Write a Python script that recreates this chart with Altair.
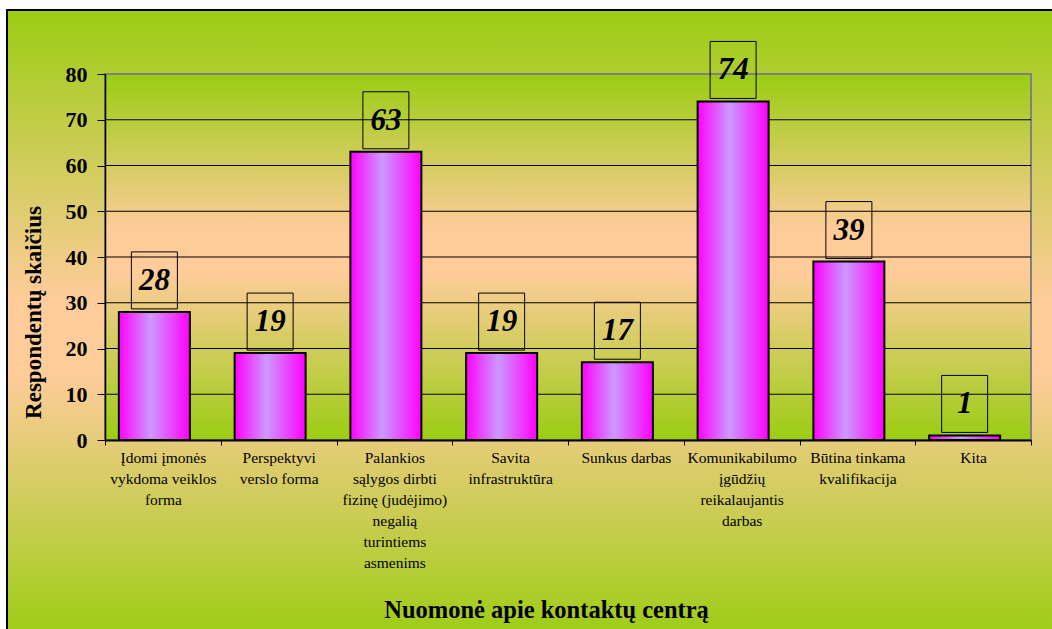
import altair as alt
import pandas as pd

categories = [
    "Įdomi įmonės\nvykdoma veiklos\nforma",
    "Perspektyvi\nverslo forma",
    "Palankios\nsąlygos dirbti\nfizinę (judėjimo)\nnegalią\nturintiems\nasmenims",
    "Savita\ninfrastruktūra",
    "Sunkus darbas",
    "Komunikabilumo\nįgūdžių\nreikalaujantis\ndarbas",
    "Būtina tinkama\nkvalifikacija",
    "Kita",
]
values = [28, 19, 63, 19, 17, 74, 39, 1]
y_ticks = [0, 10, 20, 30, 40, 50, 60, 70, 80]
grid_values = [10, 20, 30, 40, 50, 60, 70]

GREEN = "#9ACD12"
PEACH = "#FDCC98"
FONT = "Liberation Serif, Times New Roman, Tinos, DejaVu Serif, serif"
W, H = 926, 366

df = pd.DataFrame({"category": categories, "value": values})
grid_df = pd.DataFrame({"v": grid_values})

outer_grad = {
    "gradient": "linear", "x1": 0, "x2": 0, "y1": 0, "y2": 1,
    "stops": [
        {"offset": 0, "color": GREEN},
        {"offset": 0.45, "color": PEACH},
        {"offset": 0.58, "color": PEACH},
        {"offset": 1, "color": GREEN},
    ],
}
plot_grad = {
    "gradient": "linear", "x1": 0, "x2": 0, "y1": 0, "y2": 1,
    "stops": [
        {"offset": 0, "color": GREEN},
        {"offset": 0.42, "color": PEACH},
        {"offset": 0.55, "color": PEACH},
        {"offset": 1, "color": GREEN},
    ],
}
bar_grad = {
    "gradient": "linear", "x1": 0, "x2": 1, "y1": 0, "y2": 0,
    "stops": [
        {"offset": 0, "color": "#FF00FF"},
        {"offset": 0.45, "color": "#CC99FF"},
        {"offset": 1, "color": "#FF00FF"},
    ],
}

x_axis = alt.Axis(
    labelExpr="split(datum.label, '\\n')",
    labelAngle=0,
    labelFont=FONT,
    labelFontSize=15.5,
    labelLineHeight=21,
    labelColor="black",
    labelPadding=5,
    labelLimit=200,
    tickBand="extent",
    tickSize=5,
    tickColor="black",
    domainColor="black",
    domainWidth=2,
    title="Nuomonė apie kontaktų centrą",
    titleFont=FONT,
    titleFontSize=24.5,
    titleFontWeight="bold",
    titleColor="black",
    titleX=441,
    titleY=177,
    titleAlign="center",
    titleBaseline="alphabetic",
    grid=False,
    zindex=1,
)
y_axis = alt.Axis(
    values=y_ticks,
    labelFont=FONT,
    labelFontSize=22,
    labelFontWeight="bold",
    labelColor="black",
    labelPadding=10,
    tickSize=8,
    tickColor="black",
    domainColor="black",
    domainWidth=1.5,
    title="Respondentų skaičius",
    titleFont=FONT,
    titleFontSize=23,
    titleFontWeight="bold",
    titleColor="black",
    titleAngle=270,
    titleX=-72,
    titleY=238,
    titleAlign="center",
    titleBaseline="middle",
    grid=False,
    zindex=1,
)

x_enc = alt.X("category:N", sort=categories,
              scale=alt.Scale(paddingInner=0, paddingOuter=0), axis=x_axis)
y_scale = alt.Scale(domain=[0, 80], nice=False)

blank = alt.Data(values=[{}])

outer = alt.Chart(blank).mark_rect(fill=outer_grad, stroke="black", strokeWidth=2).encode(
    x=alt.value(-98), x2=alt.value(960), y=alt.value(-64), y2=alt.value(570)
)
plot_bg = alt.Chart(blank).mark_rect(fill=plot_grad, stroke="#808080", strokeWidth=2).encode(
    x=alt.value(0), x2=alt.value("width"), y=alt.value(0), y2=alt.value("height")
)
grid = alt.Chart(grid_df).mark_rule(color="black", strokeWidth=1).encode(
    y=alt.Y("v:Q", scale=y_scale, axis=y_axis), x=alt.value(0), x2=alt.value("width")
)
bars = alt.Chart(df).mark_bar(size=71, xOffset=-8.5, fill=bar_grad, stroke="black", strokeWidth=2).encode(
    x=x_enc, y=alt.Y("value:Q", scale=y_scale, axis=y_axis)
)
boxes = alt.Chart(df).mark_bar(size=46, xOffset=-8.5, fill="white", fillOpacity=0,
                               stroke="black", strokeWidth=1, yOffset=-3, y2Offset=-60).encode(
    x=x_enc, y=alt.Y("value:Q", scale=y_scale, axis=y_axis), y2=alt.Y2("value:Q")
)
labels = alt.Chart(df).mark_text(font=FONT, fontSize=31, fontWeight="bold", fontStyle="italic",
                                 baseline="middle", align="center", xOffset=-8.5, yOffset=-31,
                                 color="black").encode(
    x=x_enc, y=alt.Y("value:Q", scale=y_scale, axis=y_axis), text="value:Q"
)

chart = alt.layer(outer, plot_bg, grid, bars, boxes, labels).properties(
    width=W, height=H,
    padding={"left": 105, "top": 74, "right": 21, "bottom": 189},
    autosize=alt.AutoSizeParams(type="none"),
    background="white",
).configure_view(stroke="transparent")

chart.save("out.html", embed_options={"renderer": "svg", "actions": False})
